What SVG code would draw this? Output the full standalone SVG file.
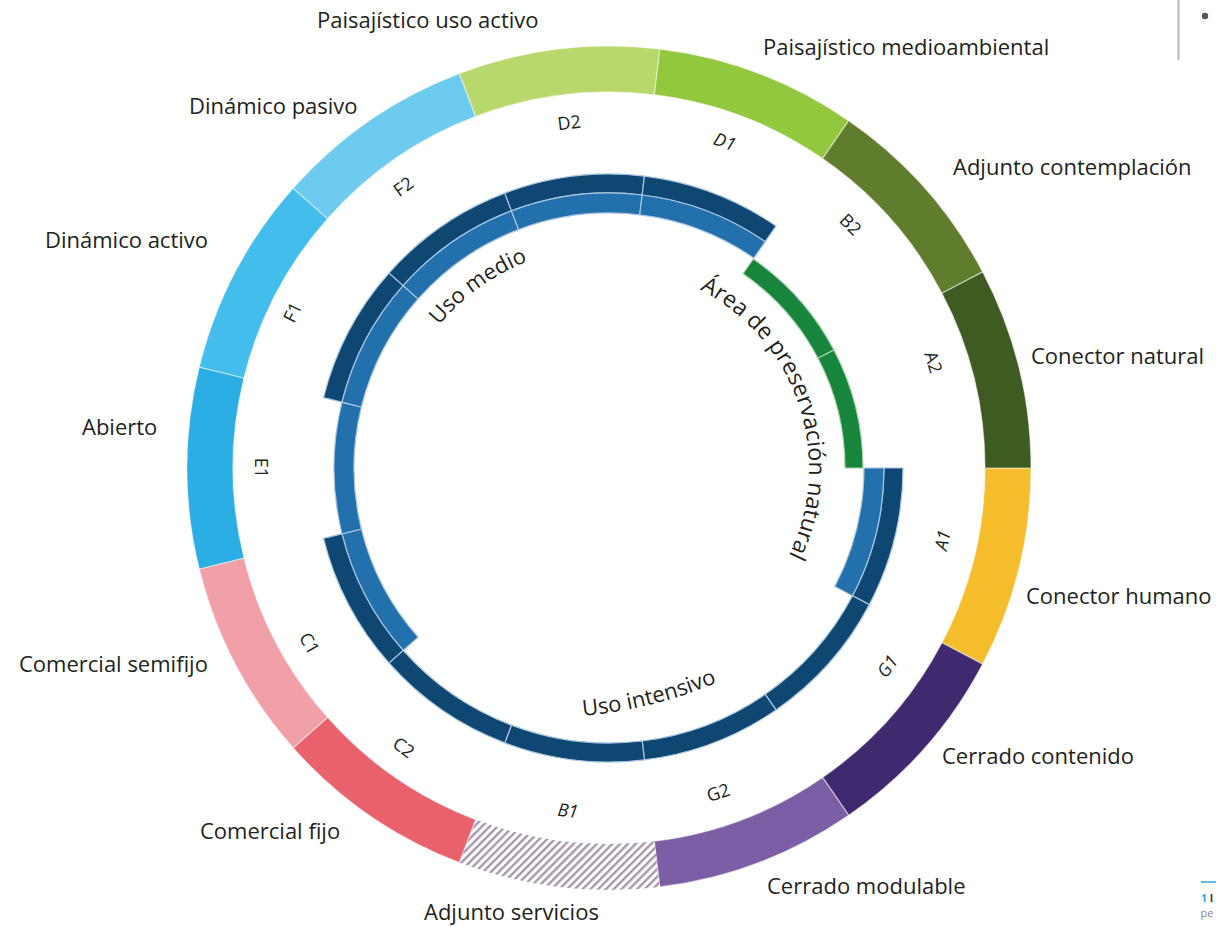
<svg xmlns="http://www.w3.org/2000/svg" width="1216" height="927" viewBox="0 0 1216 927">
<style>
.lbl{font-family:"Open Sans","Liberation Sans",sans-serif;font-size:22px;fill:#231f20}
.let{font-family:"Open Sans","Liberation Sans",sans-serif;font-size:18px;fill:#231f20;text-anchor:middle;dominant-baseline:central}
.it{font-style:italic}
.seg{stroke:#ffffff;stroke-opacity:0.5;stroke-width:1.2}
.dark{fill:#0d4772;stroke:#a8c6e2;stroke-width:1.2}
.med{fill:#2270ac;stroke:#a8c6e2;stroke-width:1.2}
.grn{fill:#17853c;stroke:#a9d4a8;stroke-width:1.2}
</style>
<defs>
<pattern id="hatch" patternUnits="userSpaceOnUse" width="5.5" height="5.5" patternTransform="rotate(45)">
<rect width="5.5" height="5.5" fill="#ffffff"/>
<rect width="2.4" height="5.5" fill="#a798ae"/>
</pattern>
<path id="pUsoMedio" d="M 438.9 325.3 A 222 222 0 0 1 570.5 249.4"/>
<path id="pArea" d="M 699.8 289.8 A 200 200 0 0 1 750.4 609.4"/>
<path id="pUsoInt" d="M 583 716 A 460 460 0 0 0 716 683"/>
</defs>

<g id="outer-ring">
<g id="seg-A1">
<path class="seg" fill="#f5bc2c" d="M 1031 468 A 422 422 0 0 1 982.66 664.11 L 941.93 642.73 A 376 376 0 0 0 985 468 Z"/>
<text class="lbl" x="1026" y="604">Conector humano</text>
</g>
<g id="seg-G1">
<path class="seg" fill="#3f2a70" d="M 982.66 664.11 A 422 422 0 0 1 848.72 815.30 L 822.59 777.44 A 376 376 0 0 0 941.93 642.73 Z"/>
<text class="lbl" x="942" y="764">Cerrado contenido</text>
</g>
<g id="seg-G2">
<path class="seg" fill="#7c5ea6" d="M 848.72 815.30 A 422 422 0 0 1 659.87 886.92 L 654.32 841.26 A 376 376 0 0 0 822.59 777.44 Z"/>
<text class="lbl" x="767" y="894">Cerrado modulable</text>
</g>
<g id="seg-B1">
<path fill="url(#hatch)" d="M 659.87 886.92 A 422 422 0 0 1 459.36 862.57 L 475.67 819.57 A 376 376 0 0 0 654.32 841.26 Z"/>
<text class="lbl" x="424" y="920">Adjunto servicios</text>
</g>
<g id="seg-C2">
<path class="seg" fill="#e9626b" d="M 459.36 862.57 A 422 422 0 0 1 293.13 747.84 L 327.56 717.33 A 376 376 0 0 0 475.67 819.57 Z"/>
<text class="lbl" x="200" y="839">Comercial fijo</text>
</g>
<g id="seg-C1">
<path class="seg" fill="#f0a0a6" d="M 293.13 747.84 A 422 422 0 0 1 199.26 568.99 L 243.93 557.98 A 376 376 0 0 0 327.56 717.33 Z"/>
<text class="lbl" x="19" y="672">Comercial semifijo</text>
</g>
<g id="seg-E1">
<path class="seg" fill="#2aaee3" d="M 199.26 568.99 A 422 422 0 0 1 199.26 367.01 L 243.93 378.02 A 376 376 0 0 0 243.93 557.98 Z"/>
<text class="lbl" x="82" y="435">Abierto</text>
</g>
<g id="seg-F1">
<path class="seg" fill="#42bdec" d="M 199.26 367.01 A 422 422 0 0 1 293.13 188.16 L 327.56 218.67 A 376 376 0 0 0 243.93 378.02 Z"/>
<text class="lbl" x="45" y="248">Dinámico activo</text>
</g>
<g id="seg-F2">
<path class="seg" fill="#6dcbef" d="M 293.13 188.16 A 422 422 0 0 1 459.36 73.43 L 475.67 116.43 A 376 376 0 0 0 327.56 218.67 Z"/>
<text class="lbl" x="189" y="114">Dinámico pasivo</text>
</g>
<g id="seg-D2">
<path class="seg" fill="#b8d86b" d="M 459.36 73.43 A 422 422 0 0 1 659.87 49.08 L 654.32 94.74 A 376 376 0 0 0 475.67 116.43 Z"/>
<text class="lbl" x="317" y="28">Paisajístico uso activo</text>
</g>
<g id="seg-D1">
<path class="seg" fill="#92c83e" d="M 659.87 49.08 A 422 422 0 0 1 848.72 120.70 L 822.59 158.56 A 376 376 0 0 0 654.32 94.74 Z"/>
<text class="lbl" x="763" y="55">Paisajístico medioambiental</text>
</g>
<g id="seg-B2">
<path class="seg" fill="#5f7d2c" d="M 848.72 120.70 A 422 422 0 0 1 982.66 271.89 L 941.93 293.27 A 376 376 0 0 0 822.59 158.56 Z"/>
<text class="lbl" x="953" y="175">Adjunto contemplación</text>
</g>
<g id="seg-A2">
<path class="seg" fill="#3e5b22" d="M 982.66 271.89 A 422 422 0 0 1 1031 468 L 985 468 A 376 376 0 0 0 941.93 293.27 Z"/>
<text class="lbl" x="1031" y="364">Conector natural</text>
</g>
</g>

<g id="codes">
<text class="let" transform="translate(569,122) rotate(-6.6)">D2</text>
<text class="let it" transform="translate(725,141) rotate(19.5)">D1</text>
<text class="let" transform="translate(851,224) rotate(44.8)">B2</text>
<text class="let" transform="translate(934,362) rotate(71.9)">A2</text>
<text class="let it" transform="translate(942,540) rotate(-77.8)">A1</text>
<text class="let it" transform="translate(887,666) rotate(-54.5)">G1</text>
<text class="let" transform="translate(718,792) rotate(-18.6)">G2</text>
<text class="let it" transform="translate(568,810) rotate(6.8)">B1</text>
<text class="let" transform="translate(404,747) rotate(36.3)">C2</text>
<text class="let" transform="translate(310,643) rotate(59.7)">C1</text>
<text class="let" transform="translate(262,468) rotate(90)">E1</text>
<text class="let" transform="translate(292,312) rotate(-63.8)">F1</text>
<text class="let" transform="translate(403,186) rotate(-36.2)">F2</text>
</g>

<g id="uso-medio">
<path class="dark" d="M 323.54 397.64 A 294 294 0 0 1 388.94 273.04 L 403.17 285.64 A 275 275 0 0 0 341.99 402.19 Z"/>
<path class="dark" d="M 388.94 273.04 A 294 294 0 0 1 504.75 193.11 L 511.48 210.88 A 275 275 0 0 0 403.17 285.64 Z"/>
<path class="dark" d="M 504.75 193.11 A 294 294 0 0 1 644.44 176.14 L 642.15 195.01 A 275 275 0 0 0 511.48 210.88 Z"/>
<path class="dark" d="M 644.44 176.14 A 294 294 0 0 1 776.01 226.04 L 765.22 241.68 A 275 275 0 0 0 642.15 195.01 Z"/>
<path class="med" d="M 403.17 650.36 A 275 275 0 0 1 341.99 533.81 L 361.41 529.03 A 255 255 0 0 0 418.13 637.10 Z"/>
<path class="med" d="M 341.99 533.81 A 275 275 0 0 1 341.99 402.19 L 361.41 406.97 A 255 255 0 0 0 361.41 529.03 Z"/>
<path class="med" d="M 341.99 402.19 A 275 275 0 0 1 403.17 285.64 L 418.13 298.90 A 255 255 0 0 0 361.41 406.97 Z"/>
<path class="med" d="M 403.17 285.64 A 275 275 0 0 1 511.48 210.88 L 518.58 229.57 A 255 255 0 0 0 418.13 298.90 Z"/>
<path class="med" d="M 511.48 210.88 A 275 275 0 0 1 642.15 195.01 L 639.74 214.86 A 255 255 0 0 0 518.58 229.57 Z"/>
<path class="med" d="M 642.15 195.01 A 275 275 0 0 1 765.22 241.68 L 753.86 258.14 A 255 255 0 0 0 639.74 214.86 Z"/>
<text class="lbl"><textPath href="#pUsoMedio">Uso medio</textPath></text>
</g>

<g id="uso-intensivo">
<path class="dark" d="M 903 468 A 294 294 0 0 1 869.33 604.63 L 852.50 595.80 A 275 275 0 0 0 884 468 Z"/>
<path class="dark" d="M 869.33 604.63 A 294 294 0 0 1 776.01 709.96 L 765.22 694.32 A 275 275 0 0 0 852.50 595.80 Z"/>
<path class="dark" d="M 776.01 709.96 A 294 294 0 0 1 644.44 759.86 L 642.15 740.99 A 275 275 0 0 0 765.22 694.32 Z"/>
<path class="dark" d="M 644.44 759.86 A 294 294 0 0 1 504.75 742.89 L 511.48 725.12 A 275 275 0 0 0 642.15 740.99 Z"/>
<path class="dark" d="M 504.75 742.89 A 294 294 0 0 1 388.94 662.96 L 403.17 650.36 A 275 275 0 0 0 511.48 725.12 Z"/>
<path class="dark" d="M 388.94 662.96 A 294 294 0 0 1 323.54 538.36 L 341.99 533.81 A 275 275 0 0 0 403.17 650.36 Z"/>
<path class="med" d="M 884 468 A 275 275 0 0 1 852.50 595.80 L 834.79 586.50 A 255 255 0 0 0 864 468 Z"/>
<text class="lbl"><textPath href="#pUsoInt">Uso intensivo</textPath></text>
</g>

<g id="area-preservacion">
<path class="grn" d="M 753.29 258.96 A 254 254 0 0 1 833.91 349.96 L 817.97 358.33 A 236 236 0 0 0 743.06 273.78 Z"/>
<path class="grn" d="M 833.91 349.96 A 254 254 0 0 1 863 468 L 845 468 A 236 236 0 0 0 817.97 358.33 Z"/>
<text class="lbl" style="font-size:23px"><textPath href="#pArea">Área de preservación natural</textPath></text>
</g>

<g id="page-marks">
<line x1="1178.5" y1="0" x2="1178.5" y2="60" stroke="#b3b3b3" stroke-width="2"/>
<circle cx="1205" cy="16" r="3.2" fill="#555555"/>
<line x1="1201" y1="882" x2="1216" y2="882" stroke="#29abe2" stroke-width="1.5"/>
<text x="1201" y="902" font-family="'Open Sans','Liberation Sans',sans-serif" font-size="10.5" font-weight="bold"><tspan fill="#29abe2">1</tspan><tspan fill="#333333"> I</tspan></text>
<text x="1200.5" y="917" font-family="'Open Sans','Liberation Sans',sans-serif" font-size="11" fill="#888888">pe</text>
</g>
</svg>
